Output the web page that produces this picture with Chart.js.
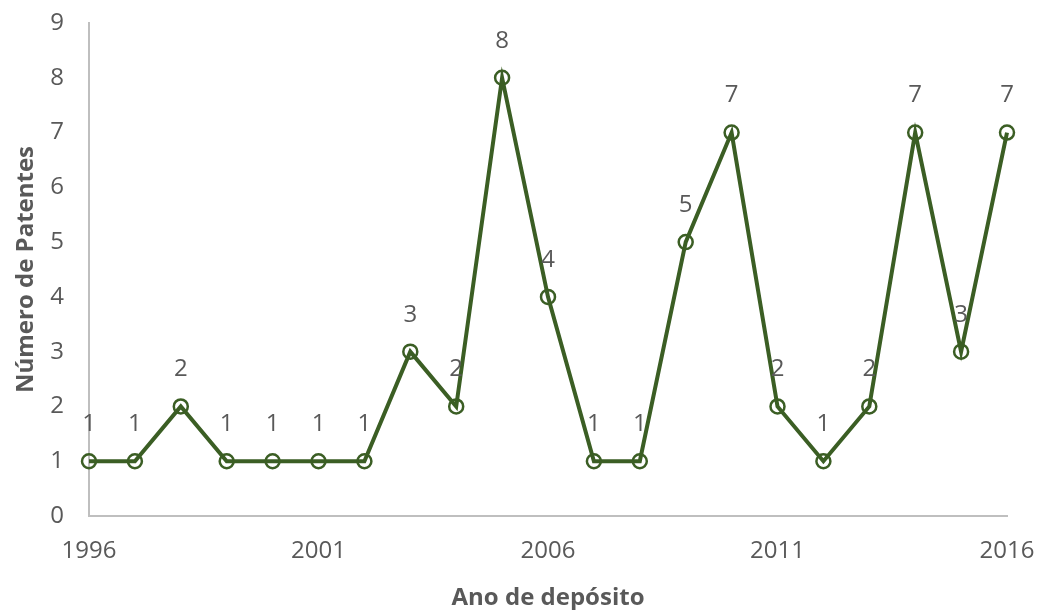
<!DOCTYPE html>
<html>
<head>
<meta charset="utf-8">
<script src="https://cdn.jsdelivr.net/npm/chart.js@4.4.1/dist/chart.umd.min.js"></script>
<style>
  html, body { margin: 0; padding: 0; background: #ffffff; }
  #wrap { width: 1038px; height: 610px; }
</style>
</head>
<body>
<div id="wrap"><canvas id="patentChart"></canvas></div>
<script>
const years = [1996, 1997, 1998, 1999, 2000, 2001, 2002, 2003, 2004, 2005, 2006,
  2007, 2008, 2009, 2010, 2011, 2012, 2013, 2014, 2015, 2016];
const patents = [1, 1, 2, 1, 1, 1, 1, 3, 2, 8, 4, 1, 1, 5, 7, 2, 1, 2, 7, 3, 7];
const xTicks = [1996, 2001, 2006, 2011, 2016];
const yTicks = [0, 1, 2, 3, 4, 5, 6, 7, 8, 9];

const points = years.map((y, i) => ({ x: y, y: patents[i] }));

// values drawn above each marker
const pointLabels = {
  id: "pointLabels",
  afterDatasetsDraw(chart) {
    const ctx = chart.ctx;
    const meta = chart.getDatasetMeta(0);
    ctx.save();
    ctx.font = "24px 'Open Sans'";
    ctx.fillStyle = "#595959";
    ctx.textAlign = "center";
    ctx.textBaseline = "middle";
    meta.data.forEach((pt, i) => {
      ctx.fillText(String(patents[i]), pt.x, pt.y - 37);
    });
    ctx.restore();
  }
};

// invisible tick marks give the gap between axis and labels
const hiddenGrid = len => ({
  display: true,
  drawOnChartArea: false,
  drawTicks: true,
  tickLength: len,
  color: "rgba(0,0,0,0)"
});

const ctx = document.getElementById("patentChart").getContext("2d");
new Chart(ctx, {
  type: "line",
  data: {
    datasets: [{
      label: "Patentes",
      data: points,
      borderColor: "#3b5e24",
      backgroundColor: "#ffffff",
      borderWidth: 4,
      tension: 0,
      pointRadius: 7,
      pointHoverRadius: 7,
      pointBorderWidth: 2.5,
      pointBorderColor: "#3b5e24",
      pointBackgroundColor: "rgba(255,255,255,0)",
      fill: false,
      clip: false
    }]
  },
  options: {
    responsive: true,
    maintainAspectRatio: false,
    animation: false,
    layout: { padding: { top: 23, right: 31, left: 0, bottom: 0 } },
    plugins: {
      legend: { display: false },
      tooltip: { enabled: false }
    },
    scales: {
      x: {
        type: "linear",
        min: 1996,
        max: 2016,
        grid: hiddenGrid(21),
        border: { display: true, color: "#bfbfbf", width: 2 },
        afterBuildTicks(scale) { scale.ticks = xTicks.map(v => ({ value: v })); },
        afterFit(scale) { scale.height = 94; },
        ticks: {
          padding: 0,
          color: "#595959",
          font: { family: "'Open Sans'", size: 24 },
          callback: v => String(v),
          maxRotation: 0
        },
        title: {
          display: true,
          text: "Ano de depósito",
          color: "#595959",
          padding: { top: 0, bottom: 0 },
          font: { family: "'Open Sans'", size: 24, weight: "bold", lineHeight: 1 }
        }
      },
      y: {
        min: 0,
        max: 9,
        grid: hiddenGrid(25),
        border: { display: true, color: "#bfbfbf", width: 2 },
        afterBuildTicks(scale) { scale.ticks = yTicks.map(v => ({ value: v })); },
        afterFit(scale) { scale.width = 89; },
        ticks: {
          padding: 0,
          color: "#595959",
          font: { family: "'Open Sans'", size: 24 }
        },
        title: {
          display: true,
          text: "Número de Patentes",
          color: "#595959",
          padding: { top: 12, bottom: 0 },
          font: { family: "'Open Sans'", size: 24, weight: "bold" }
        }
      }
    }
  },
  plugins: [pointLabels]
});
</script>
</body>
</html>
